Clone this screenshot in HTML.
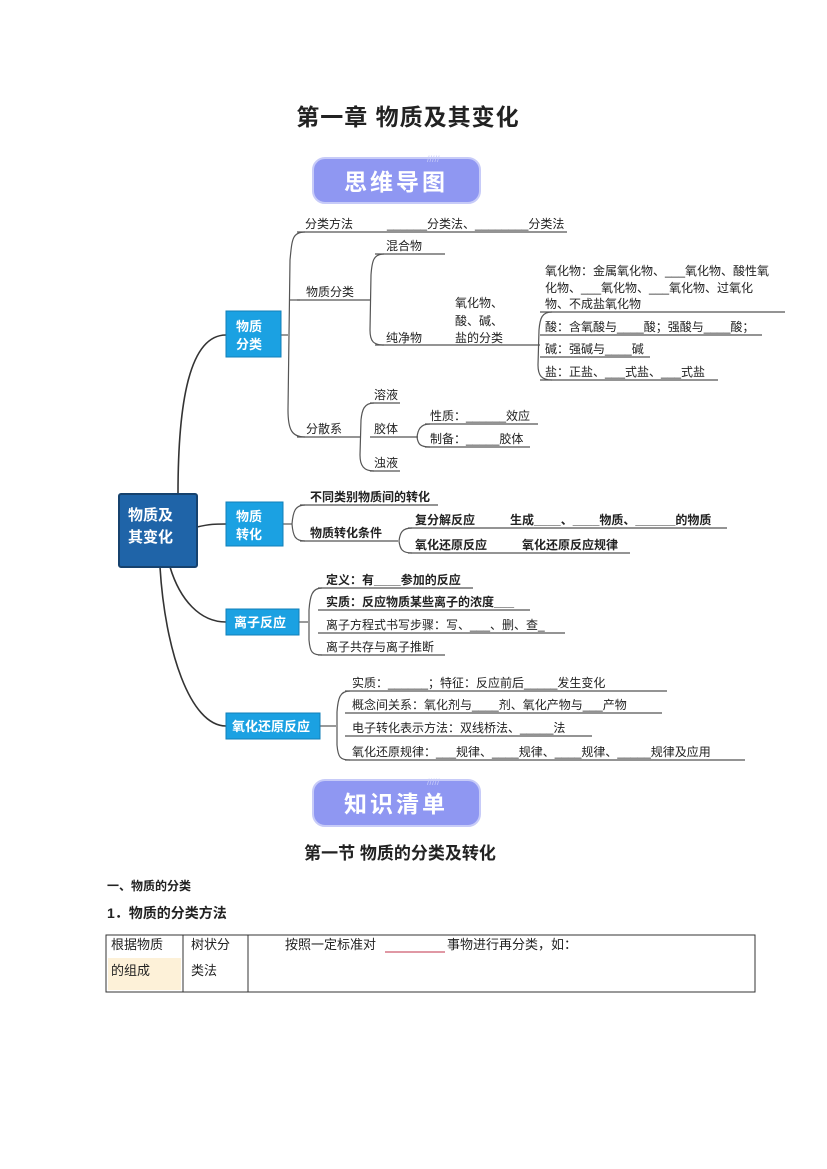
<!DOCTYPE html>
<html><head><meta charset="utf-8"><style>
html,body{margin:0;padding:0;background:#fff;}
svg{display:block;}
text{font-family:"Liberation Sans","Noto Sans CJK SC",sans-serif;fill:#222;}
.m{font-size:12px;}
.b{font-weight:bold;}
</style></head><body>
<svg width="827" height="1169" viewBox="0 0 827 1169" xmlns="http://www.w3.org/2000/svg">
<text x="408" y="125" text-anchor="middle" font-size="23" class="b" fill="#000" letter-spacing="1">第一章  物质及其变化</text>

<!-- banner 1 -->
<rect x="313" y="158" width="167" height="45" rx="12" fill="#8f97f2" stroke="#c7cbf8" stroke-width="2"/>
<text x="396" y="190" text-anchor="middle" font-size="23" class="b" style="fill:#fff" letter-spacing="3">思维导图</text>
<text x="427" y="162" font-size="9" style="fill:#c7cbf8">/////</text>

<g fill="none" stroke="#333" stroke-width="1.6">
<path d="M178 494 C178 400 190 335 226 335"/>
<path d="M197 527 C210 524 215 524 226 524"/>
<path d="M170 567 C180 600 200 622 226 622"/>
<path d="M160 567 C165 650 190 726 226 726"/>
</g>
<g fill="none" stroke="#555" stroke-width="1.2">
<path d="M281 335 L288 335"/>
<path d="M305 232 C292 232 292 240 290 260 L288 410 C288 430 292 437 305 437"/>
<path d="M290 300 C292 300 294 300 300 300"/>
<line x1="297" y1="232" x2="567" y2="232"/>
<line x1="297" y1="300" x2="370" y2="300"/>
<line x1="297" y1="437" x2="360" y2="437"/>
<path d="M384 254 C374 254 372 260 371 275 L370 330 C370 342 374 345 384 345"/>
<line x1="375" y1="254" x2="445" y2="254"/>
<line x1="375" y1="345" x2="540" y2="345"/>
<path d="M552 312 C542 312 540 318 539 330 L538 365 C538 376 542 380 552 380"/>
<line x1="540" y1="312" x2="785" y2="312"/>
<line x1="540" y1="335" x2="762" y2="335"/>
<line x1="540" y1="357" x2="650" y2="357"/>
<line x1="540" y1="380" x2="718" y2="380"/>
<path d="M374 403 C364 403 362 410 361 420 L360 455 C360 466 364 471 374 471"/>
<line x1="370" y1="403" x2="400" y2="403"/>
<line x1="370" y1="437" x2="418" y2="437"/>
<line x1="370" y1="471" x2="400" y2="471"/>
<path d="M430 424 C420 424 418 430 417 437 C418 444 420 447 430 447"/>
<line x1="425" y1="424" x2="538" y2="424"/>
<line x1="425" y1="447" x2="530" y2="447"/>
<path d="M283 524 L292 524"/>
<path d="M305 505 C295 505 293 512 292 524 C293 536 295 541 305 541"/>
<line x1="300" y1="505" x2="438" y2="505"/>
<line x1="300" y1="541" x2="398" y2="541"/>
<path d="M412 528 C402 528 400 533 399 541 C400 549 402 553 412 553"/>
<line x1="408" y1="528" x2="727" y2="528"/>
<line x1="408" y1="553" x2="630" y2="553"/>
<path d="M299 622 L308 622"/>
<path d="M322 588 C312 588 310 596 309 610 L309 640 C310 652 312 655 322 655"/>
<line x1="318" y1="588" x2="473" y2="588"/>
<line x1="318" y1="610" x2="530" y2="610"/>
<line x1="318" y1="633" x2="565" y2="633"/>
<line x1="318" y1="655" x2="445" y2="655"/>
<path d="M320 726 L336 726"/>
<path d="M350 691 C340 691 338 698 337 712 L337 745 C338 757 340 760 350 760"/>
<line x1="345" y1="691" x2="667" y2="691"/>
<line x1="345" y1="713" x2="662" y2="713"/>
<line x1="345" y1="736" x2="592" y2="736"/>
<line x1="345" y1="760" x2="745" y2="760"/>
</g>

<rect x="119" y="494" width="78" height="73" rx="2" fill="#1f64a8" stroke="#16426e" stroke-width="2"/>
<text x="128" y="520" font-size="15" class="b" style="fill:#fff">物质及</text>
<text x="128" y="542" font-size="15" class="b" style="fill:#fff">其变化</text>
<rect x="226" y="311" width="55" height="46" fill="#1ba1e2" stroke="#127fb8"/>
<text x="236" y="331" font-size="13" class="b" style="fill:#fff">物质</text>
<text x="236" y="349" font-size="13" class="b" style="fill:#fff">分类</text>
<rect x="226" y="502" width="57" height="44" fill="#1ba1e2" stroke="#127fb8"/>
<text x="236" y="521" font-size="13" class="b" style="fill:#fff">物质</text>
<text x="236" y="539" font-size="13" class="b" style="fill:#fff">转化</text>
<rect x="226" y="609" width="73" height="26" fill="#1ba1e2" stroke="#127fb8"/>
<text x="234" y="627" font-size="13" class="b" style="fill:#fff">离子反应</text>
<rect x="226" y="713" width="94" height="26" fill="#1ba1e2" stroke="#127fb8"/>
<text x="232" y="731" font-size="13" class="b" style="fill:#fff">氧化还原反应</text>

<g class="m">
<text x="305" y="228" font-size="12">分类方法</text>
<text x="387" y="228" font-size="12">______分类法、________分类法</text>
<text x="386" y="250" font-size="12">混合物</text>
<text x="306" y="296" font-size="12">物质分类</text>
<text x="386" y="342" font-size="12">纯净物</text>
<text x="455" y="307" font-size="12">氧化物、</text>
<text x="455" y="325" font-size="12">酸、碱、</text>
<text x="455" y="342" font-size="12">盐的分类</text>
<text x="545" y="275" font-size="12">氧化物：金属氧化物、___氧化物、酸性氧</text>
<text x="545" y="292" font-size="12">化物、___氧化物、___氧化物、过氧化</text>
<text x="545" y="308" font-size="12">物、不成盐氧化物</text>
<text x="545" y="331" font-size="12">酸：含氧酸与____酸；强酸与____酸；</text>
<text x="545" y="353" font-size="12">碱：强碱与____碱</text>
<text x="545" y="376" font-size="12">盐：正盐、___式盐、___式盐</text>
<text x="306" y="433" font-size="12">分散系</text>
<text x="374" y="399" font-size="12">溶液</text>
<text x="374" y="433" font-size="12">胶体</text>
<text x="374" y="467" font-size="12">浊液</text>
<text x="430" y="420" font-size="12">性质：______效应</text>
<text x="430" y="443" font-size="12">制备：_____胶体</text>
<text x="310" y="501" font-size="12" class="b">不同类别物质间的转化</text>
<text x="310" y="537" font-size="12" class="b">物质转化条件</text>
<text x="415" y="524" font-size="12" class="b">复分解反应</text>
<text x="510" y="524" font-size="12" class="b">生成____、____物质、______的物质</text>
<text x="415" y="549" font-size="12" class="b">氧化还原反应</text>
<text x="522" y="549" font-size="12" class="b">氧化还原反应规律</text>
<text x="326" y="584" font-size="12" class="b">定义：有____参加的反应</text>
<text x="326" y="606" font-size="12" class="b">实质：反应物质某些离子的浓度___</text>
<text x="326" y="629" font-size="12">离子方程式书写步骤：写、___、删、查_</text>
<text x="326" y="651" font-size="12">离子共存与离子推断</text>
<text x="352" y="687" font-size="12">实质：______；特征：反应前后_____发生变化</text>
<text x="352" y="709" font-size="12">概念间关系：氧化剂与____剂、氧化产物与___产物</text>
<text x="352" y="732" font-size="12">电子转化表示方法：双线桥法、_____法</text>
<text x="352" y="756" font-size="12">氧化还原规律：___规律、____规律、____规律、_____规律及应用</text>
</g>

<rect x="313" y="780" width="167" height="46" rx="12" fill="#8f97f2" stroke="#c7cbf8" stroke-width="2"/>
<text x="396" y="812" text-anchor="middle" font-size="23" class="b" style="fill:#fff" letter-spacing="3">知识清单</text>
<text x="427" y="785" font-size="9" style="fill:#c7cbf8">/////</text>

<text x="400" y="859" text-anchor="middle" font-size="17" class="b" fill="#000">第一节  物质的分类及转化</text>
<text x="107" y="890" font-size="12" class="b" fill="#000">一、物质的分类</text>
<text x="107" y="918" font-size="14" class="b" fill="#000">1．物质的分类方法</text>

<rect x="108" y="958" width="73" height="32" fill="#fdf1d8"/>
<rect x="106" y="935" width="649" height="57" fill="none" stroke="#333" stroke-width="1"/>
<line x1="183" y1="935" x2="183" y2="992" stroke="#333"/>
<line x1="248" y1="935" x2="248" y2="992" stroke="#333"/>
<text x="111" y="949" font-size="13" fill="#333">根据物质</text>
<text x="111" y="975" font-size="13" fill="#333">的组成</text>
<text x="191" y="949" font-size="13" fill="#333">树状分</text>
<text x="191" y="975" font-size="13" fill="#333">类法</text>
<text x="285" y="949" font-size="13" fill="#333">按照一定标准对</text>
<line x1="385" y1="952" x2="445" y2="952" stroke="#c0304a" stroke-width="1"/>
<text x="447" y="949" font-size="13" fill="#333">事物进行再分类，如：</text>
</svg>
</body></html>
